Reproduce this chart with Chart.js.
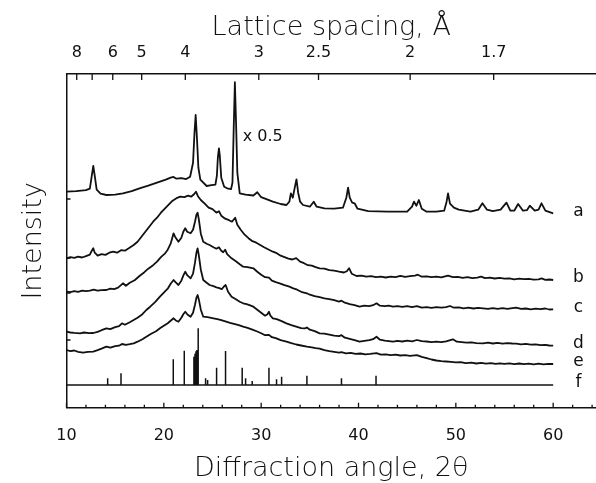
<!DOCTYPE html>
<html>
<head>
<meta charset="utf-8">
<script src="https://cdn.jsdelivr.net/npm/chart.js@4.4.1/dist/chart.umd.min.js"></script>
<style>
  html, body { margin: 0; padding: 0; background: #fff; }
  #xrd { display: block; }
</style>
</head>
<body>
<canvas id="xrd" width="596" height="483"></canvas>
<script>
// 2-theta tick labels (bottom) and lattice spacings (top, Cu K-alpha)
const angleTicks = [10, 20, 30, 40, 50, 60];
const spacings = [8, 7, 6, 5, 4, 3, 2.5, 2, 1.7];
const spacingLabels = ['8', '', '6', '5', '4', '3', '2.5', '2', '1.7'];
const wavelength = 1.5406;
const traceNames = ['a', 'b', 'c', 'd', 'e', 'f'];
const yMarks = [208.7, 149.7, 114.7, 67.7];

// [2theta, intensity]
const traceA = [[10,216],[11,216.5],[12,217.5],[12.4,219],[12.6,232],[12.75,241.7],[12.9,232],[13.1,218],[13.5,214],[14.1,212.7],[15,213],[15.8,214.4],[16.7,216.5],[17.5,219.4],[18.4,222],[19.3,225],[20.2,228],[20.7,230],[21,230.8],[21.3,229],[21.8,229.5],[22.3,228.6],[22.7,231],[23,245],[23.15,275],[23.27,292.7],[23.4,270],[23.55,240],[23.75,228],[24.4,221.7],[24.9,222.5],[25.3,223],[25.45,232],[25.55,250],[25.66,259.4],[25.75,252],[25.9,230],[26.2,221],[26.5,219.4],[26.9,218.5],[27.05,225],[27.18,280],[27.3,325.5],[27.42,285],[27.55,235],[27.8,214.4],[28.4,213],[29.2,212.2],[29.6,215.5],[30,210.5],[31.2,206],[32,203.7],[32.6,202.7],[32.9,206],[33.05,214.4],[33.25,210],[33.45,220],[33.63,228.4],[33.8,215],[34,206],[34.3,202.7],[35,201],[35.4,206],[35.7,201],[36.5,199.4],[37.5,199],[38.4,200],[38.75,210],[38.93,220],[39.1,210],[39.35,205],[39.6,204.4],[39.9,199],[41,196.5],[43,196],[45,196],[45.5,201],[45.7,206],[45.95,202],[46.2,207.7],[46.5,199],[47,196],[48,196],[48.8,197],[49.05,206],[49.2,214.4],[49.4,204],[49.8,200],[50.3,198],[51.5,196],[52.3,198],[52.73,204.4],[53.2,198],[53.8,196.5],[54.6,198],[55.2,205],[55.6,197],[56,197],[56.4,203.7],[56.9,197],[57.3,197.5],[57.6,202],[58.1,197],[58.5,198],[58.8,204.4],[59.2,197],[60,194.4]];

const traceB = [[10,149.4],[10.4,150.5],[10.8,149.8],[11.2,151],[11.6,150.2],[12,151.5],[12.4,153],[12.6,157],[12.75,159.4],[12.9,155],[13.2,152],[13.6,153.5],[14,152.8],[14.4,155],[14.8,156],[15.2,155],[15.6,157.5],[16,157],[16.4,159.5],[16.9,162.7],[17.3,166],[17.7,171],[18.1,176],[18.5,181],[18.9,186],[19.3,190],[19.7,195],[20.1,199],[20.5,203],[20.9,207],[21.3,209.5],[21.7,211],[22.1,210.5],[22.5,212],[22.8,211],[23.1,213.5],[23.3,216],[23.5,211.5],[23.8,207.7],[24.2,204],[24.6,200],[25,198.5],[25.4,195],[25.66,196.5],[25.9,192],[26.3,189],[26.7,187.5],[27,186],[27.33,190],[27.55,183],[27.9,178],[28.3,173],[28.7,169.5],[29.1,166.5],[29.5,165],[29.9,162.7],[30.3,160.5],[30.8,158],[31.2,156],[31.6,154.5],[32,152],[32.4,150.5],[32.8,149],[33.2,148.2],[33.6,149.6],[34,146],[34.4,144.5],[34.8,142.5],[35.2,142],[35.6,140.5],[36,139.4],[36.5,139],[37,137.5],[37.5,137],[38,136],[38.5,135.2],[38.8,136.5],[39.03,139.5],[39.3,134],[39.8,131.7],[40.3,132],[40.8,131],[41.3,131.5],[41.8,130.5],[42.3,131],[42.8,130.2],[43.3,131],[43.8,130.5],[44.3,131.8],[44.8,130.8],[45.3,131.5],[45.8,132],[46.1,133],[46.5,131],[47,131.4],[47.5,130.5],[48,131],[48.5,130.3],[49.2,132],[49.7,130.5],[50.2,130.8],[50.7,129.8],[51.2,130.5],[51.7,129.6],[52.2,130],[52.6,131],[53,129.6],[53.5,130],[54,129.2],[54.5,129.8],[55,129],[55.5,129.4],[56,128.4],[56.5,129],[57,128.5],[57.5,128.8],[58,128],[58.5,128.4],[58.8,129.3],[59.2,127.8],[59.6,128.2],[60,127.7]];

const traceC = [[10,116],[10.4,115.5],[10.8,116.5],[11.2,115.8],[11.6,117],[12,116.5],[12.4,117],[12.8,118],[13.2,117],[13.6,117.5],[14.1,117.7],[14.5,119],[14.9,118.5],[15.3,120],[15.8,124.4],[16.1,122],[16.5,125],[17,127.5],[17.5,131.7],[18,135.5],[18.4,139],[18.9,142.5],[19.3,146],[19.7,150.5],[20.1,154],[20.4,158],[20.7,164],[20.9,171],[21,174.4],[21.15,171],[21.5,166],[21.8,170],[22,176],[22.2,179.4],[22.4,176],[22.75,174.4],[23,178],[23.2,186],[23.35,193],[23.47,195],[23.6,188],[23.8,174],[24.05,166],[24.4,164],[24.7,162.7],[25.1,160.5],[25.4,159],[25.66,160.5],[25.9,157],[26.1,155.5],[26.3,158],[26.5,153.5],[26.96,149.4],[27.4,146.5],[27.8,143.5],[28.15,141],[28.6,140.5],[29.2,139.4],[29.6,136],[30,133],[30.4,130.5],[30.8,130],[31.1,127],[31.5,125.5],[31.9,124.4],[32.4,122.5],[32.9,121],[33.3,119.4],[33.7,118],[34.2,115.5],[34.7,114.4],[35,113],[35.5,111.5],[36,110.5],[36.5,109.4],[37,108.6],[37.5,107.5],[38,106],[38.25,107],[38.6,105],[39.1,103.5],[39.6,102.5],[40.1,101],[40.6,102],[41.1,101.6],[41.5,102.5],[41.85,104.4],[42.2,102],[42.7,101.5],[43.1,102],[43.55,101],[44,101.6],[44.5,100.8],[45,101.5],[45.5,100.6],[46,101.5],[46.5,100],[47,100.6],[47.5,99.8],[48,100.5],[48.5,100],[49,100.5],[49.4,101.7],[49.8,100],[50.3,100.4],[50.8,99.4],[51.3,100],[51.8,99.2],[52.3,99.8],[52.8,99.4],[53.3,98.8],[53.8,99.6],[54.3,98.8],[54.8,99.5],[55.3,98.9],[55.8,99.6],[56.2,100],[56.7,98.8],[57.2,99.2],[57.7,98.4],[58.2,99],[58.7,98.5],[59.2,99.2],[59.6,98.2],[60,98.4]];

const traceD = [[10,76],[10.4,75.2],[10.8,74.8],[11.4,74.4],[11.8,75.2],[12.3,74.5],[12.75,74.7],[13.2,75.8],[13.6,77.5],[14.1,79.4],[14.5,78.6],[15,80.5],[15.4,81.5],[15.7,84.4],[16,83],[16.5,85.5],[16.9,87.7],[17.3,90],[17.8,93.5],[18.2,97.7],[18.6,101],[19.1,105.5],[19.6,111],[20,115],[20.4,119],[20.7,124],[21,127.7],[21.2,125.5],[21.5,122.7],[21.8,127],[22,132],[22.2,136],[22.4,132.5],[22.75,129.4],[23,134],[23.2,145],[23.35,155],[23.47,159.4],[23.6,152],[23.8,138],[24.05,127.7],[24.4,125],[24.7,122.7],[25.1,121.5],[25.4,120.4],[25.7,119.5],[25.95,118.5],[26.15,121],[26.35,122.7],[26.6,116],[26.96,111],[27.4,108.5],[27.8,106],[28.15,104.4],[28.5,103.5],[28.8,102.5],[29.2,101],[29.6,98],[30,95],[30.4,92],[30.65,93.5],[30.8,96],[30.95,92],[31.2,89.4],[31.6,88.6],[32.1,86.5],[32.6,84.4],[33.1,82.5],[33.6,81],[34.1,79.5],[34.5,79.4],[34.7,80.2],[35,78],[35.5,76.5],[36,74.4],[36.5,74],[37,73],[37.5,72],[38,71.5],[38.25,72.5],[38.6,70],[39.1,68.8],[39.6,67.5],[40.1,66],[40.6,66.8],[41.1,67.5],[41.5,68.5],[41.85,71],[42.2,68],[42.7,67],[43.1,66.5],[43.55,66],[44,66.8],[44.5,66.2],[45,67],[45.5,66.4],[46,67.7],[46.5,66.5],[47,66.2],[47.5,65.5],[48,66],[48.5,65.6],[49,66.4],[49.7,68.4],[50.1,66],[50.6,65.5],[51.1,65],[51.6,65.4],[52.1,64.6],[52.8,64.4],[53.3,65],[53.8,64.2],[54.3,64.8],[54.8,64],[55.3,64.6],[55.8,64.2],[56.2,64],[56.7,63.4],[57.2,63.8],[57.7,63],[58.2,63.4],[58.7,62.6],[59.2,62.8],[59.6,62.2],[60,62]];

const traceE = [[10,57.7],[10.4,56.5],[10.8,57.2],[11.2,55.8],[11.7,55],[12.2,55.8],[12.75,56],[13.2,57.5],[13.6,59],[14.1,61],[14.5,60],[15,61.5],[15.4,62],[15.7,63.7],[16.1,62.8],[16.5,63.5],[16.9,64.4],[17.3,66],[17.8,68.5],[18.2,71],[18.7,74],[19.2,76.5],[19.6,79.4],[20,82],[20.4,84.5],[20.7,87],[21,89.4],[21.2,87.5],[21.5,86],[21.8,90],[22,93.5],[22.2,96],[22.45,93],[22.75,91],[23,95],[23.2,103],[23.35,110],[23.47,112.7],[23.6,108],[23.8,98],[24.05,91],[24.5,90.5],[25.1,89.4],[25.5,88.5],[25.9,87.5],[26.4,86],[26.8,84.8],[27.3,83.5],[27.7,82.5],[28.15,81],[28.6,79.8],[29.1,78],[29.6,76.2],[30,74.5],[30.4,72.5],[30.8,72.8],[31.1,70.5],[31.5,69.5],[32,67.5],[32.6,66],[33.1,64.5],[33.6,63.2],[34.1,62.2],[34.7,61],[35.2,60.4],[35.6,59.6],[36,59],[36.5,57.5],[37,56.5],[37.5,55.8],[38,55],[38.25,55.5],[38.7,54.4],[39.2,54.8],[39.7,53.8],[40.2,54.2],[40.7,53.4],[41.2,53.8],[41.85,54.5],[42.3,53],[42.8,53.4],[43.3,52.6],[43.8,53],[44.3,52.2],[44.8,52.6],[45.3,51.8],[46,52.5],[46.5,50.8],[47,49.5],[47.5,48.2],[48,47.2],[48.5,46.6],[49,46.2],[49.5,45.9],[50,45.4],[50.5,45.6],[51,44.6],[51.6,45],[52.1,44.2],[52.6,44.8],[53.1,44],[53.6,44.6],[54.1,43.8],[54.5,44.4],[55,43.8],[55.5,44.4],[56,43.6],[56.5,44.2],[57,43.5],[57.5,44],[58,43.4],[58.5,44],[59,43.4],[59.5,43.9],[60,43.7]];

// reference pattern f: baseline level and stick tops
const stickBase = 22.7;
const stickAngles = [14.23, 15.6, 20.97, 22.1, 23.09, 23.2, 23.3, 23.4, 23.53, 24.29, 24.5, 25.42, 26.34, 28.05, 28.4, 29.08, 30.8, 31.58, 32.1, 34.7, 38.25, 41.8];
const stickTops = [29.4, 34.4, 48.4, 57, 51, 54, 56.5, 57.7, 79.4, 29.4, 27.7, 40, 56.7, 40, 29.4, 26.7, 40, 28.4, 31, 32, 29.4, 32];

const noteText = 'x 0.5';
const noteAt = [28.1, 270.7];

const FONT = '"DejaVu Sans", sans-serif';
const INK = '#111';

const braggAngle = d => 2 * Math.asin(wavelength / (2 * d)) * 180 / Math.PI;
const toPoints = arr => arr.map(([x, y]) => ({x, y}));

const traces = [traceA, traceB, traceC, traceD, traceE];

let sticks = [];
stickAngles.forEach((x, i) => {
    sticks.push({x, y: stickBase}, {x, y: stickTops[i]}, {x, y: null});
});

const lineStyle = {
    borderColor: INK,
    borderWidth: 1.8,
    pointRadius: 0,
    tension: 0,
    borderJoinStyle: 'round',
    fill: false
};

const datasets = traces.map((t, i) => Object.assign({label: traceNames[i], data: toPoints(t)}, lineStyle));
datasets.push(Object.assign({label: 'f', data: [{x: 10, y: stickBase}, {x: 60, y: stickBase}]}, lineStyle, {borderWidth: 1.6}));
datasets.push(Object.assign({label: 'f sticks', data: sticks, spanGaps: false}, lineStyle, {borderWidth: 1.5}));

const decorations = {
    id: 'decorations',
    afterDraw(chart) {
        const {ctx, chartArea, scales} = chart;
        const x = scales.x, x2 = scales.x2, y = scales.y;
        ctx.save();
        ctx.strokeStyle = INK;
        ctx.lineWidth = 1.3;
        ctx.beginPath();
        // inward ticks on the bottom axis, minor every 2 degrees
        for (let v = 10; v <= 64; v += 2) {
            const px = x.getPixelForValue(v);
            const len = v % 10 === 0 ? 5 : 3;
            ctx.moveTo(px, chartArea.bottom);
            ctx.lineTo(px, chartArea.bottom - len);
        }
        spacings.forEach(d => {
            const px = x2.getPixelForValue(braggAngle(d));
            ctx.moveTo(px, chartArea.top);
            ctx.lineTo(px, chartArea.top + 6);
        });
        yMarks.forEach(v => {
            const py = y.getPixelForValue(v);
            ctx.moveTo(chartArea.left, py);
            ctx.lineTo(chartArea.left + 4, py);
        });
        ctx.stroke();

        ctx.fillStyle = INK;
        ctx.font = '17px ' + FONT;
        ctx.textAlign = 'center';
        ctx.textBaseline = 'middle';
        const ends = traces.map(t => t[t.length - 1][1]).concat([stickBase]);
        traceNames.forEach((name, i) => {
            ctx.fillText(name, x.getPixelForValue(62.6), y.getPixelForValue(ends[i]) - 2);
        });

        ctx.font = '16px ' + FONT;
        ctx.textAlign = 'left';
        ctx.fillText(noteText, x.getPixelForValue(noteAt[0]), y.getPixelForValue(noteAt[1]));
        ctx.restore();
    }
};

const titleFont = { family: FONT, size: 27, weight: '300', lineHeight: 1 };

new Chart(document.getElementById('xrd'), {
    type: 'line',
    data: { datasets: datasets },
    options: {
        responsive: false,
        animation: false,
        layout: { padding: 0 },
        plugins: {
            legend: { display: false },
            tooltip: { enabled: false }
        },
        scales: {
            x: {
                type: 'linear',
                position: 'bottom',
                min: 10,
                max: 64.4,
                grid: { display: false },
                border: { display: true, color: INK, width: 1.5 },
                afterBuildTicks: s => { s.ticks = angleTicks.map(v => ({value: v})); },
                afterFit: s => { s.height = 75.3; },
                ticks: { color: INK, padding: 11, maxRotation: 0, font: { family: FONT, size: 16 } },
                title: {
                    display: true,
                    text: 'Diffraction angle, 2θ',
                    color: INK,
                    padding: { top: 0, bottom: 1 },
                    font: titleFont
                }
            },
            x2: {
                type: 'linear',
                position: 'top',
                min: 10,
                max: 64.4,
                grid: { display: false },
                border: { display: true, color: INK, width: 1.5 },
                afterBuildTicks: s => { s.ticks = spacings.map(d => ({value: braggAngle(d)})); },
                afterFit: s => { s.height = 74; },
                ticks: {
                    color: INK,
                    padding: 3.4,
                    maxRotation: 0,
                    autoSkip: false,
                    font: { family: FONT, size: 16 },
                    callback: (value, index) => spacingLabels[index]
                },
                title: {
                    display: true,
                    text: 'Lattice spacing, Å',
                    color: INK,
                    padding: { top: 14.5, bottom: 0 },
                    font: titleFont
                }
            },
            y: {
                type: 'linear',
                min: 0,
                max: 333.7,
                grid: { display: false },
                border: { display: true, color: INK, width: 1.5 },
                ticks: { display: false },
                afterFit: s => { s.width = 66.5; },
                title: {
                    display: true,
                    text: 'Intensity',
                    color: INK,
                    padding: { top: 20, bottom: 0 },
                    font: titleFont
                }
            }
        }
    },
    plugins: [decorations]
});
</script>
</body>
</html>
